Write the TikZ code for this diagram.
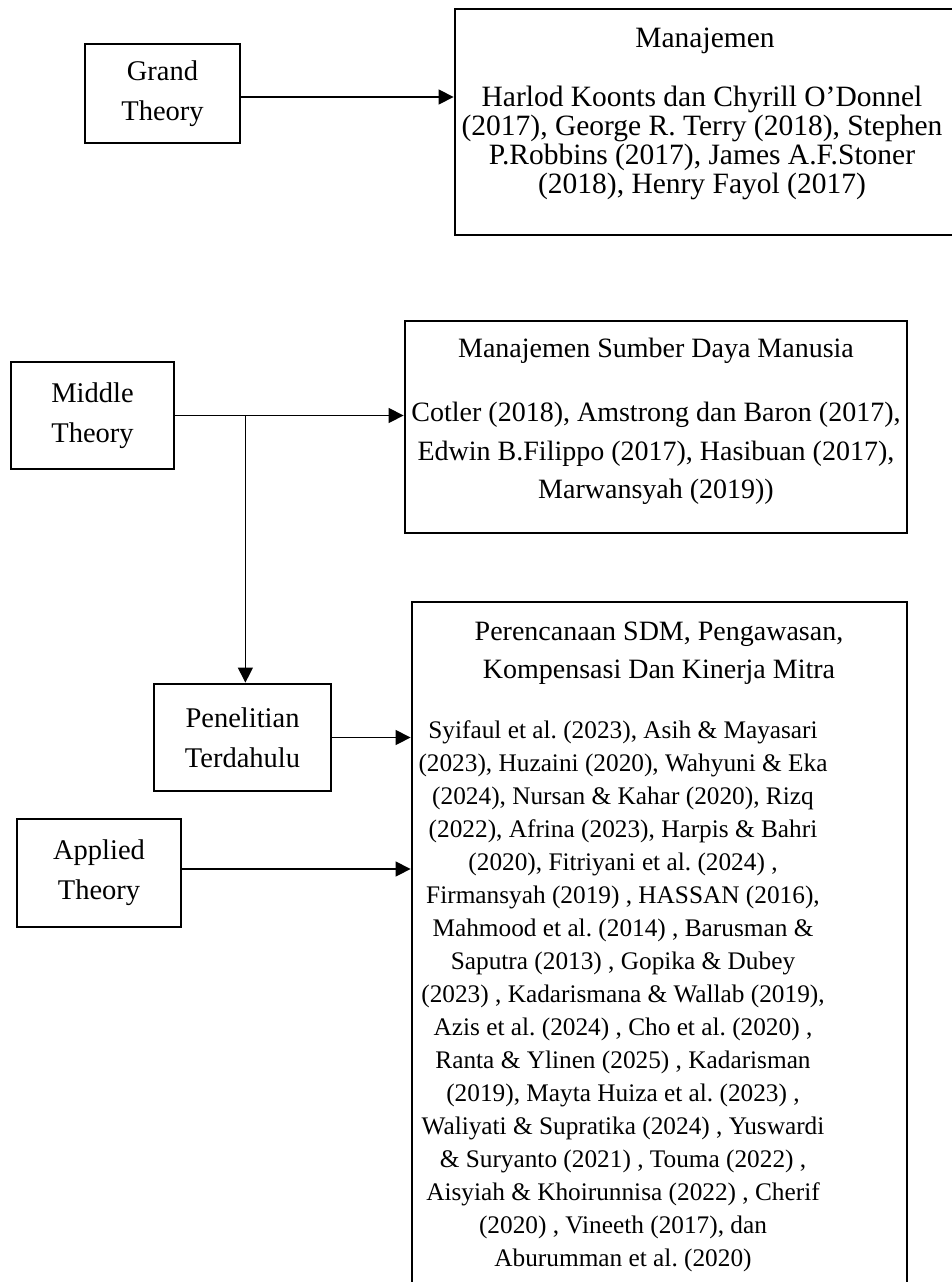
\documentclass[tikz,border=0pt]{standalone}
\usepackage{fontspec}
\setmainfont{Liberation Serif}
\usetikzlibrary{arrows.meta}
\frenchspacing
\begin{document}
\frenchspacing
\begin{tikzpicture}[x=1pt,y=-1pt,
  box/.style={draw,line width=2.8pt,inner sep=0pt},
  arr/.style={line width=1.3pt,-{Triangle[length=15pt,width=15pt]}},
  lbl/.style={align=center,font=\fontsize{28.5}{40}\selectfont},
  mtxt/.style={align=center,inner sep=0pt,font=\fontsize{29.5}{29}\selectfont},
  stxt/.style={align=center,inner sep=0pt,font=\fontsize{28}{38.5}\selectfont},
  btxt/.style={align=center,inner sep=0pt,font=\fontsize{25.3}{33}\selectfont}]
\useasboundingbox (0,0) rectangle (951,1282);

% left boxes
\node[box,lbl,minimum width=155pt,minimum height=99pt] (grand) at (162.5,93.5) {Grand\\Theory};
\node[box,lbl,minimum width=163pt,minimum height=107pt] (middle) at (92.5,415.5) {Middle\\Theory};
\node[box,lbl,minimum width=177pt,minimum height=107pt] (pen) at (242.5,737.5) {Penelitian\\Terdahulu};
\node[box,lbl,minimum width=164pt,minimum height=108pt] (app) at (99,873) {Applied\\Theory};

% right boxes
\node[box,minimum width=505pt,minimum height=226pt] (man) at (707.5,122) {};
\node[mtxt] (mant) at (705,41) {Manajemen};
\node[mtxt] (manb) at (702,143) {Harlod Koonts dan Chyrill O’Donnel\\(2017), George R. Terry (2018), Stephen\\P.Robbins (2017), James A.F.Stoner\\(2018), Henry Fayol (2017)};

\node[box,minimum width=502pt,minimum height=212pt] (msdm) at (656,427) {};
\node[stxt] (msdmt) at (656,351) {Manajemen Sumber Daya Manusia};
\node[stxt] (msdmb) at (656,453.5) {Cotler (2018), Amstrong dan Baron (2017),\\Edwin B.Filippo (2017), Hasibuan (2017),\\Marwansyah (2019))};

\node[box,minimum width=495pt,minimum height=700pt] (big) at (659.5,952) {};
\node[stxt] (bigt) at (659,653) {Perencanaan SDM, Pengawasan,\\Kompensasi Dan Kinerja Mitra};
\node[btxt] (bigb) at (623,996) {Syifaul et al. (2023), Asih \& Mayasari\\(2023), Huzaini (2020), Wahyuni \& Eka\\(2024), Nursan \& Kahar (2020), Rizq\\(2022), Afrina (2023), Harpis \& Bahri\\(2020), Fitriyani et al. (2024) ,\\Firmansyah (2019) , HASSAN (2016),\\Mahmood et al. (2014) , Barusman \&\\Saputra (2013) , Gopika \& Dubey\\(2023) , Kadarismana \& Wallab (2019),\\Azis et al. (2024) , Cho et al. (2020) ,\\Ranta \& Ylinen (2025) , Kadarisman\\(2019), Mayta Huiza et al. (2023) ,\\Waliyati \& Supratika (2024) , Yuswardi\\\& Suryanto (2021) , Touma (2022) ,\\Aisyiah \& Khoirunnisa (2022) , Cherif\\(2020) , Vineeth (2017), dan\\Aburumman et al. (2020)};

% connectors
\path ([yshift=-3.5pt]grand.east) coordinate (g1);
\draw[arr] (g1) -- (g1 -| man.west);
\draw[arr] (middle.east) -- (middle.east -| msdm.west);
\path (middle.east) ++(70,0) coordinate (br);
\draw[arr] (br) -- (br |- pen.north);
\draw[arr] (pen.east) -- (pen.east -| big.west);
\path ([yshift=4pt]app.east) coordinate (a1);
\draw[arr] (a1) -- (a1 -| big.west);
\end{tikzpicture}
\end{document}
